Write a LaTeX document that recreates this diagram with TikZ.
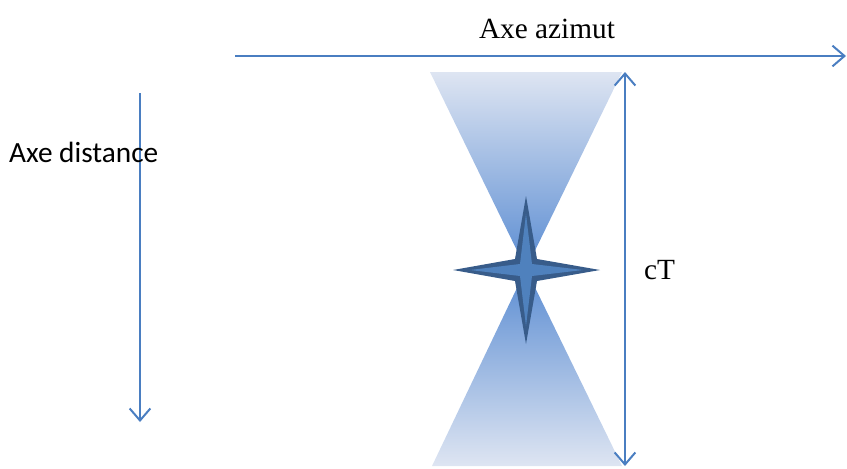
\documentclass[tikz,border=0pt]{standalone}
\usepackage{fontspec}
\setmainfont{Liberation Serif}
\newfontfamily\labelsans{Carlito}
\usetikzlibrary{arrows.meta,positioning}
\definecolor{AxisBlue}{RGB}{74,126,193}
\definecolor{BeamLight}{RGB}{222,229,242}
\definecolor{BeamDark}{RGB}{90,140,210}
\definecolor{StarEdge}{RGB}{56,92,138}
\definecolor{StarFill}{RGB}{79,129,189}

\begin{document}
\begin{tikzpicture}[
        x=0.03cm,y=-0.03cm,
        every node/.style={font=\fontsize{25}{28}\selectfont},
        axArrow/.style={draw=AxisBlue,line width=1.7pt,-{Straight Barb[length=3.6mm,width=6.2mm,line width=1.7pt]}},
        dArrow/.style={draw=AxisBlue,line width=1.7pt,{Straight Barb[length=3.6mm,width=6.2mm,line width=1.7pt]}-{Straight Barb[length=3.6mm,width=6.2mm,line width=1.7pt]}}]
        \useasboundingbox (0,0) rectangle (847,468);
        % beams
        \shade[top color=BeamLight,bottom color=BeamDark] (430,72) -- (622,72) -- (526,269) -- cycle;
        \shade[top color=BeamDark,bottom color=BeamLight] (526,269) -- (622,466) -- (432,466) -- cycle;
        % axes
        \coordinate (az0) at (235,56);
        \coordinate (az1) at (846,56);
        \coordinate (di0) at (140,93);
        \coordinate (di1) at (140,422);
        \coordinate (ct0) at (625,72);
        \coordinate (ct1) at (625,466);
        \draw[axArrow] (az0)--(az1);
        \draw[axArrow] (di0)--(di1);
        \draw[dArrow] (ct0)--(ct1);
        \node (azimut) at (547,29) {Axe azimut};
        \node[anchor=west,font=\labelsans\fontsize{25}{28}\selectfont] (distance) at (5,152) {Axe distance};
        \node[anchor=west] (ct) at (640,270) {cT};
        % target
        \coordinate (tgt) at (526,270);
        \fill[StarEdge] (526,196) -- (537,259) -- (600,270) -- (537,281) -- (526,344)
          -- (515,281) -- (453,270) -- (515,259) -- cycle;
        \fill[StarFill] (526,214) -- (532,264) -- (583,270) -- (532,276) -- (526,326)
          -- (520,276) -- (470,270) -- (520,264) -- cycle;
      \end{tikzpicture}
\end{document}
